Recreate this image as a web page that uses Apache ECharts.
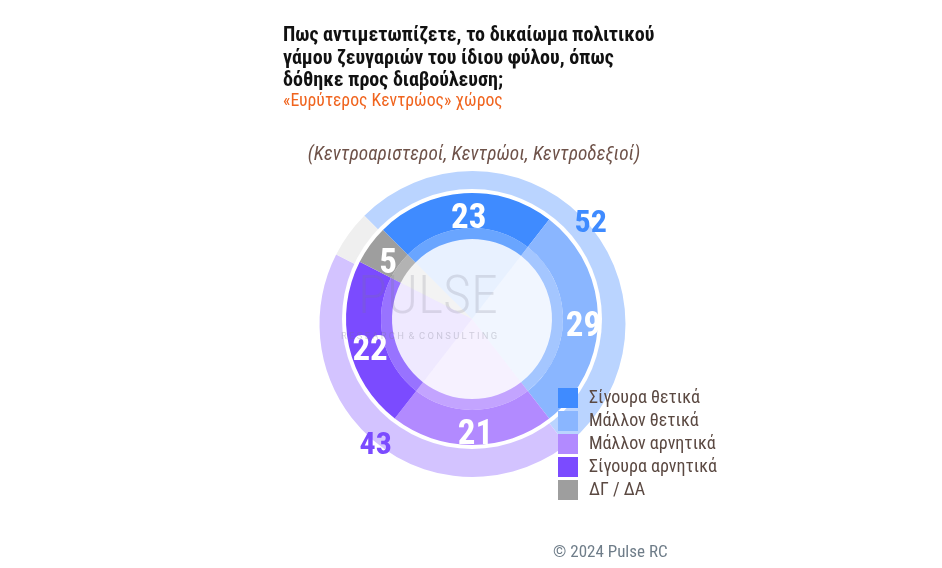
<!DOCTYPE html>
<html>
<head>
<meta charset="utf-8">
<script src="https://cdn.jsdelivr.net/npm/echarts@6/dist/echarts.min.js"></script>
<style>
  html, body { margin: 0; padding: 0; background: #fff; }
  #chart { width: 942px; height: 568px; }
</style>
</head>
<body>
<div id="chart"></div>
<script>
const categories = ['Σίγουρα θετικά', 'Μάλλον θετικά', 'Μάλλον αρνητικά', 'Σίγουρα αρνητικά', 'ΔΓ / ΔΑ']
const values = [23, 29, 21, 22, 5]
const colors = ['#3f8bff', '#8ab6ff', '#b28aff', '#7b4bff', '#9e9e9e']

// outer ring: totals
const groupNames = ['Θετικά', 'Αρνητικά', 'ΔΓ / ΔΑ ']
const groupValues = [52, 43, 5]
const groupColors = ['#bad4ff', '#d3c3ff', '#efefef']
const groupLabelColors = ['#3f8bff', '#7b4bff', 'transparent']

const font = "'Roboto Condensed', 'Liberation Sans Narrow', 'DejaVu Sans Condensed', Roboto, sans-serif"
const donutCenter = [472, 319]
const ringCenter = [472.5, 324]

const chart = echarts.init(document.getElementById('chart'))

const mainData = values.map((v, i) => ({ name: categories[i], value: v, itemStyle: { color: colors[i] } }))

chart.setOption({
    animation: false,
    title: [
        {
            text: 'Πως αντιμετωπίζετε, το δικαίωμα πολιτικού\nγάμου ζευγαριών του ίδιου φύλου, όπως\nδόθηκε προς διαβούλευση;',
            left: 283,
            top: 25,
            padding: 0,
            textStyle: { fontFamily: font, fontSize: 20, fontWeight: 'bold', color: '#111', lineHeight: 22.5 }
        },
        {
            text: '«Ευρύτερος Κεντρώος» χώρος',
            left: 283,
            top: 93,
            padding: 0,
            textStyle: { fontFamily: font, fontSize: 17.7, fontWeight: 'normal', color: '#f0641e' }
        },
        {
            text: '(Κεντροαριστεροί, Κεντρώοι, Κεντροδεξιοί)',
            left: 474,
            top: 146,
            padding: 0,
            textAlign: 'center',
            textStyle: { fontFamily: font, fontSize: 19.3, fontWeight: 'normal', fontStyle: 'italic', color: '#6e5249' }
        },
        {
            text: '© 2024 Pulse RC',
            left: 553,
            top: 544,
            padding: 0,
            textStyle: { fontFamily: font, fontSize: 17, fontWeight: 'normal', color: '#6f7d89' }
        }
    ],
    legend: {
        orient: 'vertical',
        left: 558,
        top: 388,
        padding: 0,
        itemWidth: 20,
        itemHeight: 20,
        itemGap: 3,
        icon: 'rect',
        selectedMode: false,
        data: categories.map((c, i) => ({ name: c, itemStyle: { color: colors[i], opacity: 1 } })),
        textStyle: { fontFamily: font, fontSize: 18, color: '#5b4942', padding: [0, 0, 0, 6] }
    },
    graphic: [
        {
            type: 'text',
            left: 358,
            top: 272,
            z: 100,
            style: { text: 'PULSE', font: '300 54px "Roboto Condensed"', fill: 'rgba(120,120,135,0.2)' }
        },
        {
            type: 'text',
            left: 341,
            top: 332,
            z: 100,
            style: { text: 'R E S E A R C H  &  C O N S U L T I N G', font: '9.4px Roboto', fill: 'rgba(120,120,135,0.3)' }
        }
    ],
    series: [
        {
            // outer ring with totals (inner part hidden by the white disk)
            type: 'pie',
            silent: true,
            center: ringCenter,
            radius: [0, 153],
            startAngle: 135,
            label: { show: false },
            data: groupValues.map((v, i) => ({
                name: groupNames[i],
                value: v,
                itemStyle: { color: groupColors[i] }
            }))
        },
        {
            // white gap between ring and donut
            type: 'pie',
            silent: true,
            center: donutCenter,
            radius: [0, 130],
            label: { show: false },
            data: [{ name: 'gap', value: 1, itemStyle: { color: '#fff' } }]
        },
        {
            // faint fill inside the hole
            type: 'pie',
            silent: true,
            center: donutCenter,
            radius: [0, 91],
            startAngle: 135,
            label: { show: false },
            itemStyle: { opacity: 0.12 },
            data: mainData
        },
        {
            // lighter inner band
            type: 'pie',
            silent: true,
            center: donutCenter,
            radius: [80, 91],
            startAngle: 135,
            label: { show: false },
            itemStyle: { opacity: 0.75 },
            data: mainData
        },
        {
            type: 'pie',
            silent: true,
            center: donutCenter,
            radius: [91, 126],
            startAngle: 135,
            label: { show: false },
            data: mainData
        },
        {
            // value labels of the donut
            type: 'pie',
            silent: true,
            center: [475.5, 323.5],
            radius: [95, 115],
            startAngle: 135,
            avoidLabelOverlap: false,
            itemStyle: { color: 'transparent' },
            label: {
                show: true,
                position: 'inside',
                fontFamily: font,
                fontSize: 35,
                fontWeight: 'bold',
                color: '#fff',
                offset: [0, 4],
                formatter: '{c}'
            },
            labelLine: { show: false },
            data: values.map((v, i) => ({ name: categories[i] + ' ', value: v }))
        },
        {
            // totals labels sitting on the outer edge
            type: 'pie',
            silent: true,
            center: [474.5, 325],
            radius: [145, 159],
            startAngle: 135,
            avoidLabelOverlap: false,
            itemStyle: { color: 'transparent' },
            label: {
                show: true,
                position: 'inside',
                fontFamily: font,
                fontSize: 32,
                fontWeight: 'bold',
                offset: [0, 2],
                formatter: '{c}'
            },
            labelLine: { show: false },
            data: groupValues.map((v, i) => ({
                name: groupNames[i] + ' ',
                value: v,
                label: { color: groupLabelColors[i], show: i < 2 }
            }))
        }
    ]
})
</script>
</body>
</html>
